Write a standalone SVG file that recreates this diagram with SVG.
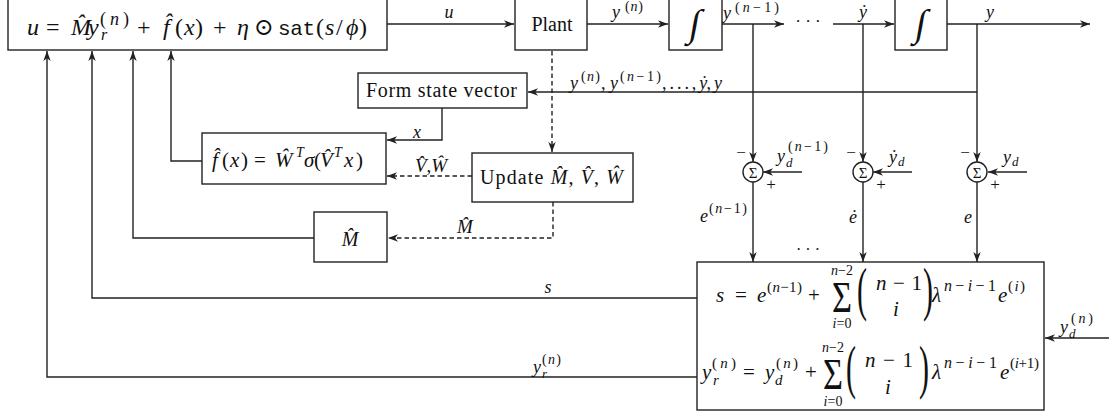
<svg xmlns="http://www.w3.org/2000/svg" width="1109" height="419" viewBox="0 0 1109 419">
<style>
.b{fill:#fff;stroke:#222;stroke-width:1.4}
.c{fill:none;stroke:#222;stroke-width:1.4}
.d{fill:none;stroke:#222;stroke-width:1.4;stroke-dasharray:4.5,3}
.m{font-family:"Liberation Serif","Times New Roman","DejaVu Serif",serif;fill:#111}
.i{font-style:italic}
.t{font-family:"Liberation Mono","DejaVu Sans Mono",monospace}
.mid{text-anchor:middle}
</style>
<defs>
<marker id="a" markerUnits="userSpaceOnUse" markerWidth="11" markerHeight="9" refX="10" refY="4" orient="auto">
<path d="M0,0.3 L10,4 L0,7.7 L2.8,4 z" fill="#222"/>
</marker>
</defs>
<rect width="1109" height="419" fill="#fff"/>

<g id="connectors">
<line class="c" x1="387" y1="24" x2="514" y2="24" marker-end="url(#a)"/>
<line class="c" x1="587" y1="24" x2="668" y2="24" marker-end="url(#a)"/>
<line class="c" x1="722" y1="24" x2="784" y2="24" marker-end="url(#a)"/>
<line class="c" x1="833" y1="24" x2="894" y2="24" marker-end="url(#a)"/>
<line class="c" x1="947" y1="24" x2="1090" y2="24" marker-end="url(#a)"/>
<line class="c" x1="753" y1="24" x2="753" y2="162" marker-end="url(#a)"/>
<line class="c" x1="863" y1="24" x2="863" y2="162" marker-end="url(#a)"/>
<line class="c" x1="977" y1="24" x2="977" y2="162" marker-end="url(#a)"/>
<line class="c" x1="977" y1="92" x2="528" y2="92" marker-end="url(#a)"/>
<line class="d" x1="552" y1="51" x2="552" y2="152" marker-end="url(#a)"/>
<path class="c" d="M442,108 V140 H387" marker-end="url(#a)"/>
<line class="d" x1="472" y1="176" x2="387" y2="176" marker-end="url(#a)"/>
<path class="d" d="M553,202 V238 H388" marker-end="url(#a)"/>
<path class="c" d="M314,238 H133 V51" marker-end="url(#a)"/>
<path class="c" d="M202,161 H171 V51" marker-end="url(#a)"/>
<path class="c" d="M697,298 H92 V51" marker-end="url(#a)"/>
<path class="c" d="M697,377 H47 V51" marker-end="url(#a)"/>
<line class="c" x1="802" y1="172" x2="763" y2="172" marker-end="url(#a)"/>
<line class="c" x1="912" y1="172" x2="873" y2="172" marker-end="url(#a)"/>
<line class="c" x1="1027" y1="172" x2="988" y2="172" marker-end="url(#a)"/>
<line class="c" x1="753" y1="182" x2="753" y2="262" marker-end="url(#a)"/>
<line class="c" x1="863" y1="182" x2="863" y2="262" marker-end="url(#a)"/>
<line class="c" x1="977" y1="182" x2="977" y2="262" marker-end="url(#a)"/>
<line class="c" x1="1109" y1="338" x2="1045" y2="338" marker-end="url(#a)"/>

<text class="m i mid" x="449" y="18" font-size="18">u</text>
<text class="m i" x="612" y="18" font-size="18">y</text>
<text class="m" x="625" y="11" font-size="14" textLength="18" lengthAdjust="spacing">(<tspan class="i">n</tspan>)</text>
<text class="m i" x="723" y="19" font-size="18">y</text>
<text class="m" x="735" y="12" font-size="14" textLength="44" lengthAdjust="spacing">(<tspan class="i">n</tspan>−1)</text>
<text class="m mid" x="808" y="27" font-size="17">· · ·</text>
<text class="m i mid" x="863" y="18" font-size="18">ẏ</text>
<text class="m i mid" x="990" y="18" font-size="18">y</text>

<text class="m i" x="570" y="89" font-size="18">y</text>
<text class="m" x="581" y="81" font-size="14" textLength="19" lengthAdjust="spacing">(<tspan class="i">n</tspan>)</text>
<text class="m" x="601" y="89" font-size="18">, <tspan class="i">y</tspan></text>
<text class="m" x="620" y="81" font-size="14" textLength="41" lengthAdjust="spacing">(<tspan class="i">n</tspan>−1)</text>
<text class="m" x="662" y="89" font-size="18" textLength="60" lengthAdjust="spacing">, . . . , <tspan class="i">ẏ</tspan>, <tspan class="i">y</tspan></text>

<text class="m i mid" x="417" y="138" font-size="18">x</text>
<text class="m mid" x="431" y="172" font-size="19"><tspan class="i">V̂</tspan>,<tspan class="i">Ŵ</tspan></text>
<text class="m i mid" x="465" y="233" font-size="19">M̂</text>
<text class="m i mid" x="548" y="293" font-size="18">s</text>
<text class="m i" x="533" y="373" font-size="18">y</text>
<text class="m i" x="542" y="378" font-size="13">r</text>
<text class="m" x="542" y="364" font-size="14" textLength="19" lengthAdjust="spacing">(<tspan class="i">n</tspan>)</text>
<text class="m i" x="1060" y="333" font-size="18">y</text>
<text class="m i" x="1069" y="338" font-size="13">d</text>
<text class="m" x="1071" y="323" font-size="14" textLength="22" lengthAdjust="spacing">(<tspan class="i">n</tspan>)</text>
</g>

<g id="control">
<rect class="b" x="8" y="-10" width="379" height="60"/>
<text class="m" y="35" font-size="24"><tspan class="i" x="27">u</tspan><tspan x="46">=</tspan><tspan class="i" x="71">M̂</tspan><tspan class="i" x="88">y</tspan></text>
<text class="m i" x="101" y="40" font-size="16">r</text>
<text class="m" x="100" y="25" font-size="18" textLength="29" lengthAdjust="spacing">(<tspan class="i">n</tspan>)</text>
<text class="m" y="35" font-size="24"><tspan x="137">+</tspan><tspan class="i" x="163">f̂</tspan><tspan x="175">(</tspan><tspan class="i" x="184">x</tspan><tspan x="195">)</tspan><tspan x="213">+</tspan><tspan class="i" x="237">η</tspan><tspan x="254">⊙</tspan></text>
<text class="m t" x="278" y="35" font-size="21" textLength="37" lengthAdjust="spacing">sat</text>
<text class="m" y="35" font-size="24"><tspan x="316">(</tspan><tspan class="i" x="325">s</tspan><tspan x="336">/</tspan><tspan class="i" x="346">ϕ</tspan><tspan x="359">)</tspan></text>
</g>

<g id="plant">
<rect class="b" x="515" y="-10" width="72" height="60"/>
<text class="m mid" x="552" y="31" font-size="20">Plant</text>
</g>

<g id="integrator1">
<rect class="b" x="669" y="-10" width="53" height="60"/>
<text class="m mid" x="695" y="36" font-size="38" transform="translate(695,24) skewX(-10) translate(-695,-24)">∫</text>
</g>

<g id="integrator2">
<rect class="b" x="895" y="-10" width="52" height="60"/>
<text class="m mid" x="921" y="36" font-size="38" transform="translate(921,24) skewX(-10) translate(-921,-24)">∫</text>
</g>

<g id="formstate">
<rect class="b" x="358" y="73" width="169" height="35"/>
<text class="m" x="366" y="97" font-size="20" textLength="151" lengthAdjust="spacing">Form state vector</text>
</g>

<g id="nn">
<rect class="b" x="202" y="133" width="184" height="51"/>
<text class="m" y="167" font-size="21"><tspan class="i" x="212">f̂</tspan><tspan x="222">(</tspan><tspan class="i" x="230">x</tspan><tspan x="241">)</tspan><tspan x="254">=</tspan><tspan class="i" x="275">Ŵ</tspan></text>
<text class="m i" x="296" y="157" font-size="14">T</text>
<text class="m" y="167" font-size="21"><tspan class="i" x="304">σ</tspan><tspan x="314">(</tspan><tspan class="i" x="320">V̂</tspan></text>
<text class="m i" x="334" y="157" font-size="14">T</text>
<text class="m" y="167" font-size="21"><tspan class="i" x="344">x</tspan><tspan x="356">)</tspan></text>
</g>

<g id="update">
<rect class="b" x="472" y="153" width="161" height="49"/>
<text class="m" x="480" y="184" font-size="20" textLength="143" lengthAdjust="spacing">Update <tspan class="i">M̂</tspan>, <tspan class="i">V̂</tspan>, <tspan class="i">Ŵ</tspan></text>
</g>

<g id="mhat">
<rect class="b" x="314" y="212" width="73" height="50"/>
<text class="m i mid" x="350" y="246" font-size="20">M̂</text>
</g>

<g id="sum1">
<circle class="b" cx="753" cy="172" r="10"/>
<text class="m mid" x="753" y="177.5" font-size="15">Σ</text>
<text class="m mid" x="741" y="158" font-size="17">−</text>
<text class="m mid" x="771" y="190" font-size="17">+</text>
<text class="m i" x="777" y="162" font-size="18">y</text>
<text class="m i" x="786" y="167" font-size="13">d</text>
<text class="m" x="788" y="151" font-size="14" textLength="40" lengthAdjust="spacing">(<tspan class="i">n</tspan>−1)</text>
<text class="m i" x="700" y="222" font-size="18">e</text>
<text class="m" x="709" y="213" font-size="14" textLength="38" lengthAdjust="spacing">(<tspan class="i">n</tspan>−1)</text>
</g>

<g id="sum2">
<circle class="b" cx="863" cy="172" r="10"/>
<text class="m mid" x="863" y="177.5" font-size="15">Σ</text>
<text class="m mid" x="851" y="158" font-size="17">−</text>
<text class="m mid" x="881" y="190" font-size="17">+</text>
<text class="m i" x="889" y="163" font-size="18">ẏ</text>
<text class="m i" x="898" y="166" font-size="13">d</text>
<text class="m i mid" x="853" y="223" font-size="18">ė</text>
</g>

<g id="sum3">
<circle class="b" cx="977" cy="172" r="10"/>
<text class="m mid" x="977" y="177.5" font-size="15">Σ</text>
<text class="m mid" x="965" y="158" font-size="17">−</text>
<text class="m mid" x="995" y="190" font-size="17">+</text>
<text class="m i" x="1003" y="163" font-size="18">y</text>
<text class="m i" x="1012" y="166" font-size="13">d</text>
<text class="m i mid" x="968" y="223" font-size="18">e</text>
</g>

<text class="m mid" x="808" y="255" font-size="16">· · ·</text>

<g id="equations">
<rect class="b" x="697" y="262" width="347" height="148"/>
<text class="m" y="302" font-size="21"><tspan class="i" x="716">s</tspan><tspan x="735">=</tspan><tspan class="i" x="757">e</tspan></text>
<text class="m" x="767" y="292" font-size="15" textLength="35" lengthAdjust="spacing">(<tspan class="i">n</tspan>−1)</text>
<text class="m" x="808" y="302" font-size="21">+</text>
<text class="m mid" x="842" y="312" font-size="44" transform="translate(842,0) scale(0.78,1) translate(-842,0)">Σ</text>
<text class="m mid" x="842" y="275" font-size="14"><tspan class="i">n</tspan>−2</text>
<text class="m mid" x="842" y="328" font-size="14"><tspan class="i">i</tspan>=0</text>
<text class="m mid" x="862" y="309" font-size="60" transform="translate(862,0) scale(0.5,1) translate(-862,0)">(</text>
<text class="m mid" x="928" y="309" font-size="60" transform="translate(928,0) scale(0.5,1) translate(-928,0)">)</text>
<text class="m" x="876" y="290" font-size="21" textLength="46" lengthAdjust="spacing"><tspan class="i">n</tspan> − 1</text>
<text class="m i mid" x="896" y="316" font-size="21">i</text>
<text class="m i" x="932" y="302" font-size="21">λ</text>
<text class="m" x="944" y="291" font-size="16" textLength="52" lengthAdjust="spacing"><tspan class="i">n</tspan>−<tspan class="i">i</tspan>−1</text>
<text class="m i" x="998" y="302" font-size="21">e</text>
<text class="m" x="1008" y="291" font-size="15" textLength="17" lengthAdjust="spacing">(<tspan class="i">i</tspan>)</text>

<text class="m i" x="702" y="379" font-size="21">y</text>
<text class="m i" x="713" y="385" font-size="15">r</text>
<text class="m" x="712" y="368" font-size="15" textLength="24" lengthAdjust="spacing">(<tspan class="i">n</tspan>)</text>
<text class="m" x="743" y="379" font-size="21">=</text>
<text class="m i" x="765" y="379" font-size="21">y</text>
<text class="m i" x="775" y="385" font-size="15">d</text>
<text class="m" x="776" y="368" font-size="15" textLength="22" lengthAdjust="spacing">(<tspan class="i">n</tspan>)</text>
<text class="m" x="805" y="379" font-size="21">+</text>
<text class="m mid" x="833" y="389" font-size="44" transform="translate(833,0) scale(0.78,1) translate(-833,0)">Σ</text>
<text class="m mid" x="833" y="352" font-size="14"><tspan class="i">n</tspan>−2</text>
<text class="m mid" x="833" y="406" font-size="14"><tspan class="i">i</tspan>=0</text>
<text class="m mid" x="851" y="387" font-size="60" transform="translate(851,0) scale(0.5,1) translate(-851,0)">(</text>
<text class="m mid" x="924" y="387" font-size="60" transform="translate(924,0) scale(0.5,1) translate(-924,0)">)</text>
<text class="m" x="865" y="367" font-size="21" textLength="48" lengthAdjust="spacing"><tspan class="i">n</tspan> − 1</text>
<text class="m i mid" x="888" y="394" font-size="21">i</text>
<text class="m i" x="932" y="379" font-size="21">λ</text>
<text class="m" x="944" y="368" font-size="16" textLength="53" lengthAdjust="spacing"><tspan class="i">n</tspan>−<tspan class="i">i</tspan>−1</text>
<text class="m i" x="1000" y="379" font-size="21">e</text>
<text class="m" x="1010" y="368" font-size="15" textLength="29" lengthAdjust="spacing">(<tspan class="i">i</tspan>+1)</text>
</g>
</svg>
